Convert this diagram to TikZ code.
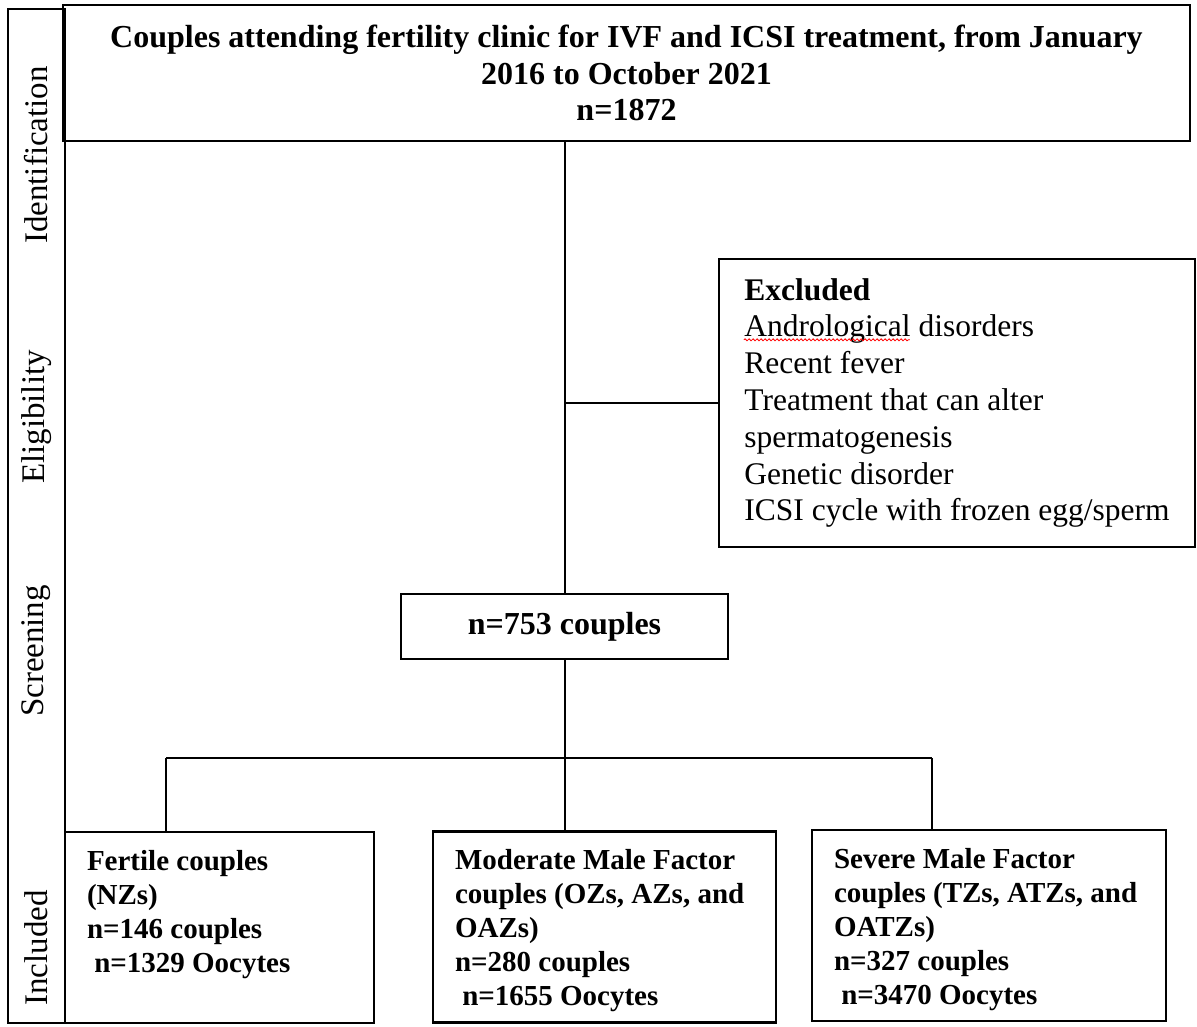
\documentclass[tikz,border=0pt]{standalone}
\usepackage{fontspec}
\setmainfont{Liberation Serif}
\usepackage{tikz}
\usetikzlibrary{positioning, calc}
\usetikzlibrary{decorations.pathmorphing}
\tikzset{
	box/.style={draw, rectangle, line width=2.4pt, inner sep=0pt},
	stage/.style={rotate=90, font=\fontsize{33}{38}\selectfont},
	head/.style={font=\fontsize{32}{36.5}\selectfont\bfseries},
	plain/.style={font=\fontsize{31.5}{36.8}\selectfont},
	group/.style={box, font=\fontsize{29}{34}\selectfont\bfseries, inner xsep=22pt, inner ysep=18pt},
	link/.style={-, line width=2pt},
}
\newcommand*{\grp}[2]{\parbox[c][155pt][t]{#1}{\raggedright #2}}

\begin{document}
\begin{tikzpicture}[x=1pt, y=-1pt]
\useasboundingbox (0,0) rectangle (1197,1026);

% stages on the left
\node[box, minimum width=57pt, minimum height=1014pt] (stages) at (36.5,516) {};
\node[stage] (ident) at (36.5,155) {Identification};
\node[stage] (elig) at (36.5,417) {Eligibility};
\node[stage] (screen) at (36.5,651) {Screening};
\node[stage] (incl) at (36.5,948) {Included};

\node[box, head, align=center, minimum width=1127pt, minimum height=136pt] (clinic) at (626.5,73) {Couples attending fertility clinic for IVF and ICSI treatment, from January\\2016 to October 2021\\n=1872};

\node[box, plain, align=left, minimum width=476pt, minimum height=288pt] (excl) at (957,403) {\textbf{Excluded}\\Andrological disorders\\Recent fever\\Treatment that can alter\\spermatogenesis\\Genetic disorder\\ICSI cycle with frozen egg/sperm};
\draw[red, line width=0.8pt, decorate, decoration={snake, amplitude=1pt, segment length=4pt}] ($(excl.north west)+(26,82)$) -- ++(166,0);

\node[box, head, minimum width=327pt, minimum height=65pt] (couples) at (564.5,626.5) {n=753 couples};

\node[group] (fertile) at (219.5,927.5) {\grp{265pt}{Fertile couples\\(NZs)\\n=146 couples\\\hspace*{0.25em}n=1329 Oocytes}};
\node[group] (moderate) at (604.5,927) {\grp{299pt}{Moderate Male Factor couples (OZs, AZs, and OAZs)\\n=280 couples\\\hspace*{0.25em}n=1655 Oocytes}};
\node[group] (severe) at (989,925.5) {\grp{310pt}{Severe Male Factor couples (TZs, ATZs, and OATZs)\\n=327 couples\\\hspace*{0.25em}n=3470 Oocytes}};

\coordinate (splitL) at (166,758);
\coordinate (splitR) at (932,758);

\draw[link] (couples.north |- clinic.south) -- (couples.north);
\draw[link] (excl.west -| couples.north) -- (excl.west);
\draw[link] (couples.south) -- (couples.south |- moderate.north);
\draw[link] (splitL) -- (splitR);
\draw[link] (splitL) -- (splitL |- fertile.north);
\draw[link] (splitR) -- (splitR |- severe.north);

\end{tikzpicture}
\end{document}
